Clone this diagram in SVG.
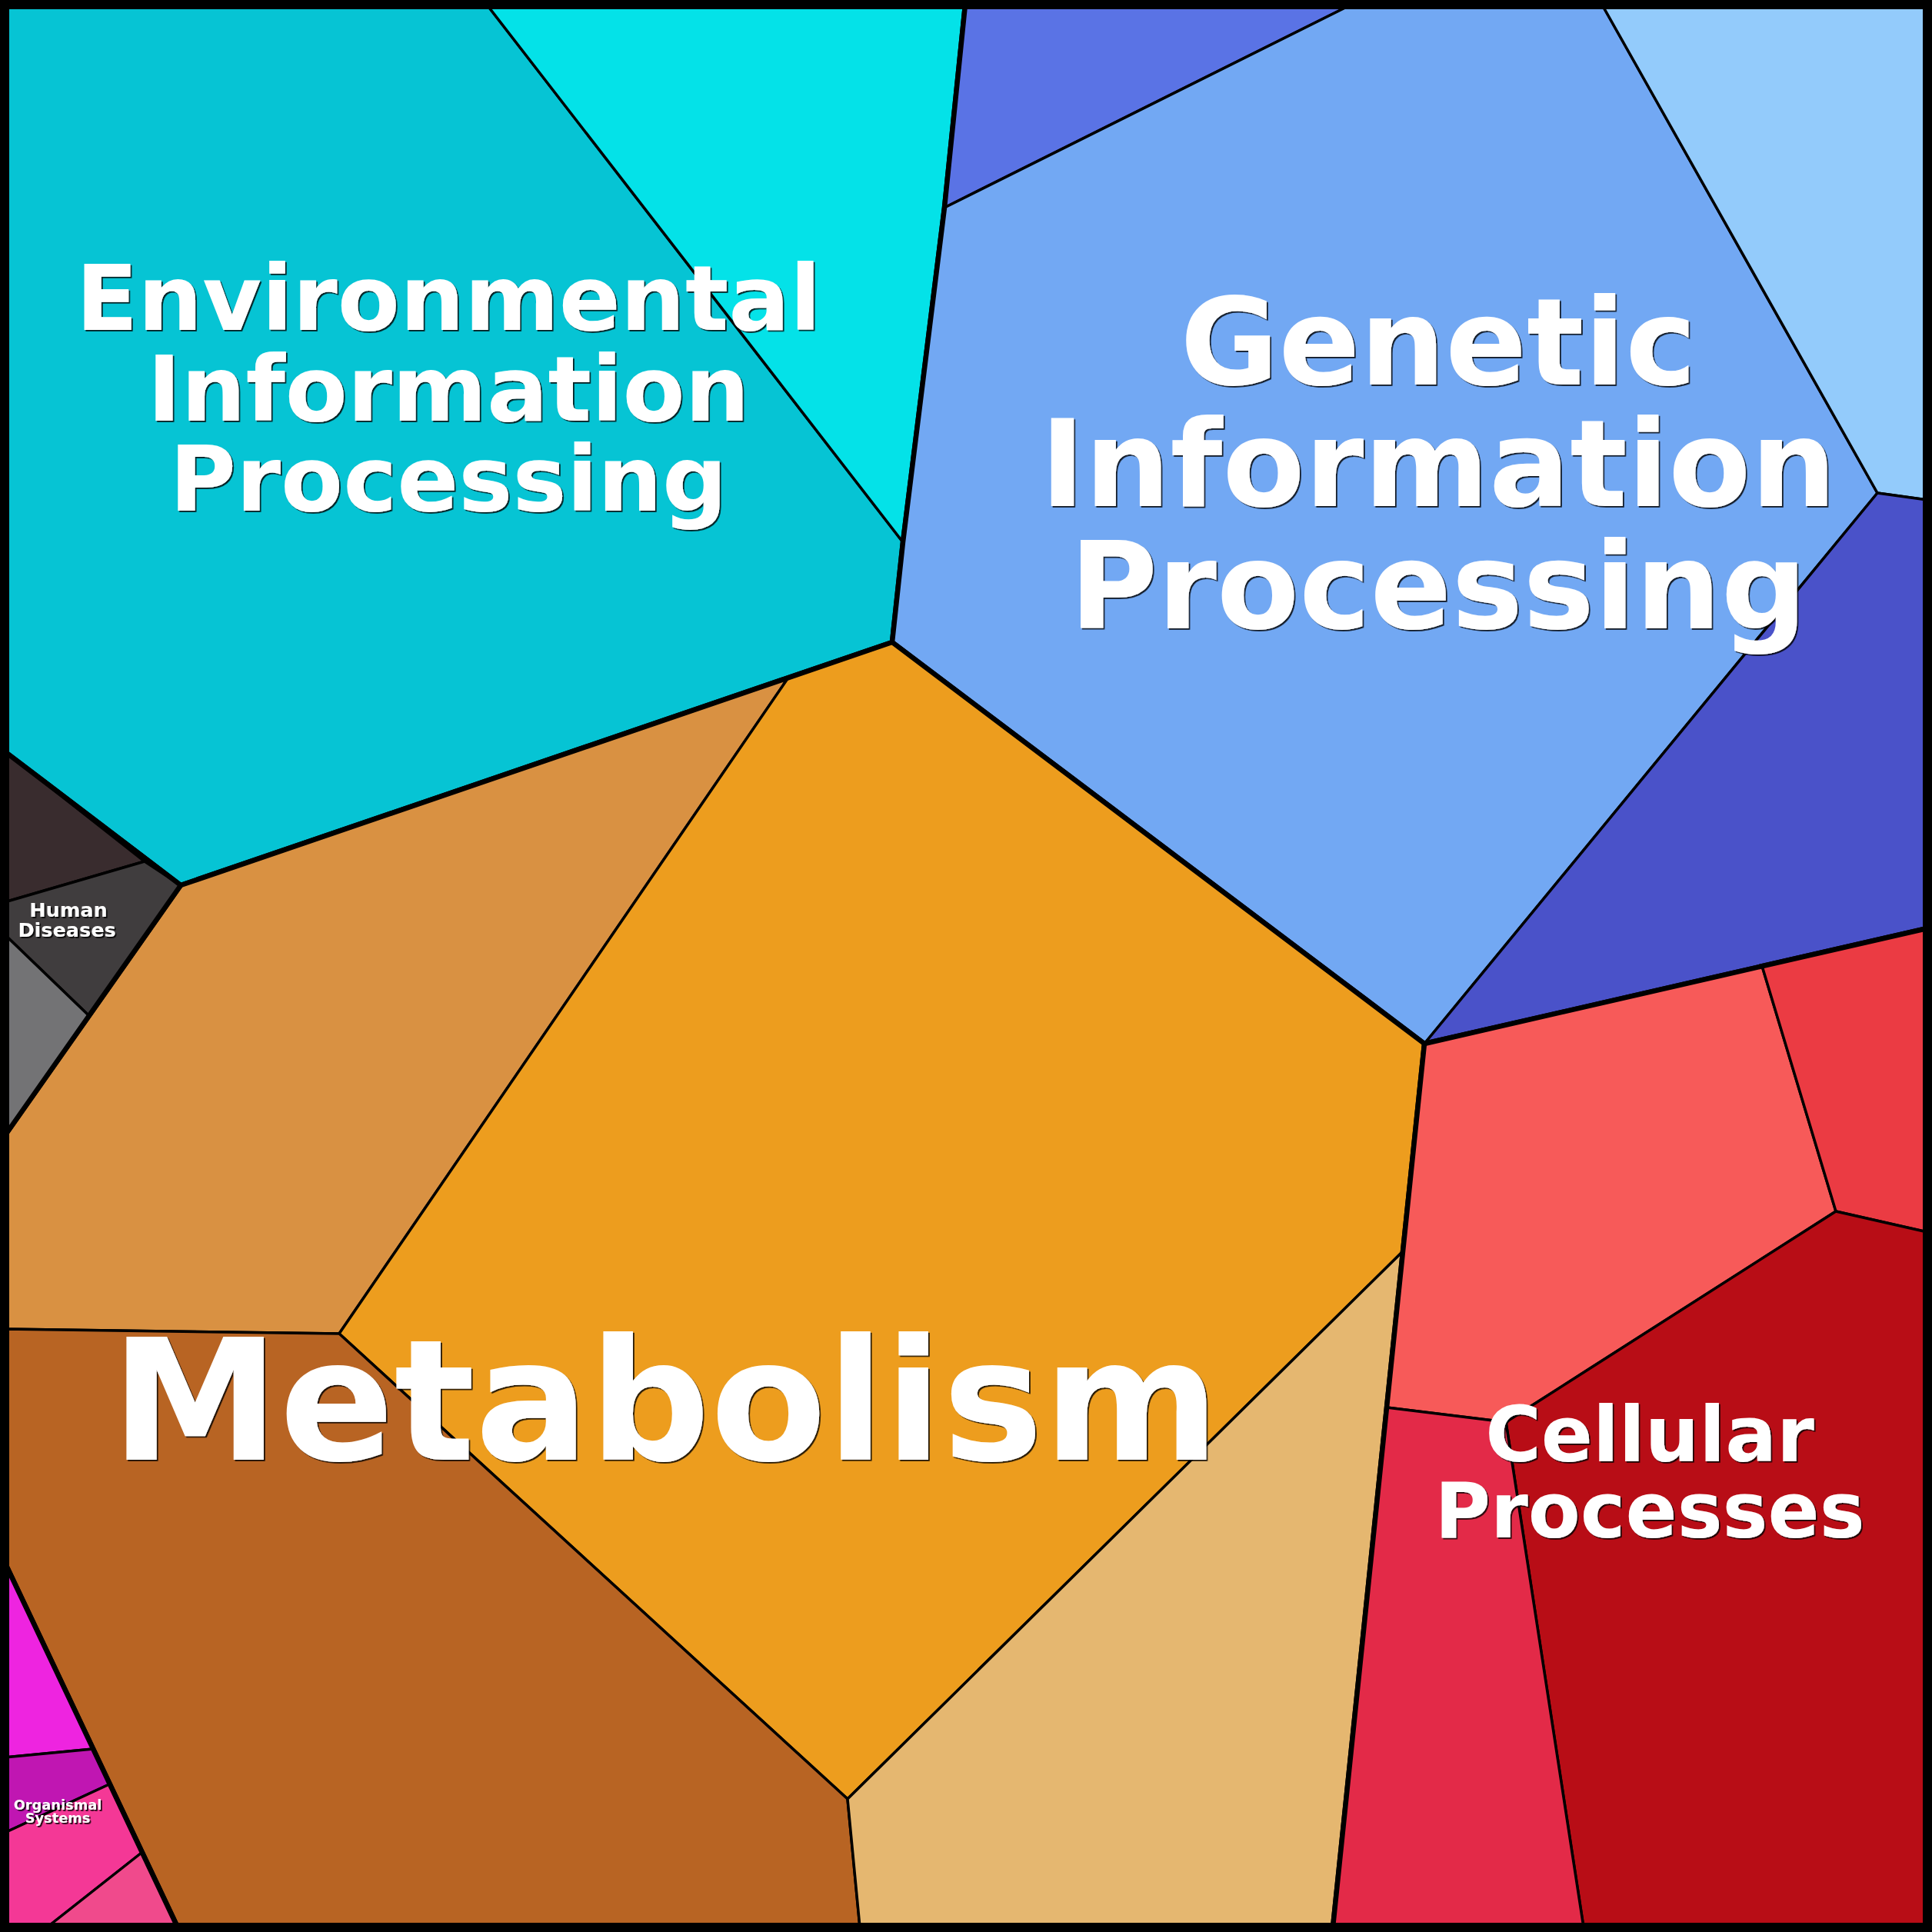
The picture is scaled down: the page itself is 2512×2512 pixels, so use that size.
<svg xmlns="http://www.w3.org/2000/svg" width="2512" height="2512" viewBox="0 0 2512 2512">
<style>
.leaf{stroke:#000;stroke-width:3.5;stroke-linejoin:round}
.outline{fill:none;stroke:#000;stroke-width:6.5;stroke-linejoin:round}
.lbl{font-family:"DejaVu Sans","Liberation Sans",sans-serif;font-weight:bold;fill:#fff;text-anchor:middle;filter:url(#sh)}
</style>
<defs>
<filter id="sh" x="-5%" y="-5%" width="110%" height="110%">
<feDropShadow dx="1.8" dy="1.8" stdDeviation="0.6" flood-color="#000" flood-opacity="0.85"/>
</filter>
</defs>
<rect x="0" y="0" width="2512" height="2512" fill="#000"/>

<g id="environmental">
<polygon class="leaf" fill="#06C4D4" points="633,6 1174,705 1160,835 235,1151 6,977 6,6"/>
<polygon class="leaf" fill="#04E2E8" points="633,6 1255,6 1228,270 1174,705"/>
<polygon class="outline" points="6,6 1255,6 1228,270 1174,705 1160,835 235,1151 6,977"/>
</g>

<g id="genetic">
<polygon class="leaf" fill="#5A73E5" points="1255,6 1757,6 1228,270"/>
<polygon class="leaf" fill="#72A8F3" points="1228,270 1757,6 2083,6 2441,641 1852,1357 1160,835 1174,705"/>
<polygon class="leaf" fill="#93CBFB" points="2083,6 2506,6 2506,650 2441,641"/>
<polygon class="leaf" fill="#4A52C9" points="2441,641 2506,650 2506,1207 1852,1357"/>
<polygon class="outline" points="1255,6 2506,6 2506,1207 1852,1357 1160,835 1174,705 1228,270"/>
</g>

<g id="metabolism">
<polygon class="leaf" fill="#D99142" points="235,1151 1025,881 441,1734 6,1728 6,1477"/>
<polygon class="leaf" fill="#ED9D1E" points="1025,881 1160,835 1852,1357 1823,1628 1102,2339 441,1734"/>
<polygon class="leaf" fill="#B86423" points="6,1728 441,1734 1102,2339 1118,2506 231,2506 6,2031"/>
<polygon class="leaf" fill="#E5B770" points="1102,2339 1823,1628 1733,2506 1118,2506"/>
<polygon class="outline" points="1160,835 1852,1357 1733,2506 231,2506 6,2031 6,1477 235,1151"/>
</g>

<g id="human-diseases">
<polygon class="leaf" fill="#392C2E" points="6,977 188,1120 6,1173"/>
<polygon class="leaf" fill="#403D3E" points="6,1173 188,1120 235,1151 115,1320 6,1215"/>
<polygon class="leaf" fill="#737375" points="6,1215 115,1320 6,1477"/>
<polygon class="outline" points="6,977 235,1151 6,1477"/>
</g>

<g id="organismal-systems">
<polygon class="leaf" fill="#EE24E0" points="6,2031 121,2274 6,2285"/>
<polygon class="leaf" fill="#C016B2" points="6,2285 121,2274 142,2320 6,2383"/>
<polygon class="leaf" fill="#F43896" points="6,2383 142,2320 184,2409 61,2506 6,2506"/>
<polygon class="leaf" fill="#F04A8C" points="61,2506 184,2409 231,2506"/>
<polygon class="outline" points="6,2031 231,2506 6,2506"/>
</g>

<g id="cellular-processes">
<polygon class="leaf" fill="#F75A59" points="1852,1357 2291,1256 2387,1575 1958,1849 1803,1830"/>
<polygon class="leaf" fill="#EB3B43" points="2291,1256 2506,1207 2506,1602 2387,1575"/>
<polygon class="leaf" fill="#B80D16" points="2387,1575 2506,1602 2506,2506 2059,2506 1958,1849"/>
<polygon class="leaf" fill="#E32A48" points="1803,1830 1958,1849 2059,2506 1733,2506"/>
<polygon class="outline" points="1852,1357 2506,1207 2506,2506 1733,2506"/>
</g>

<rect id="frame" x="6" y="6" width="2500" height="2500" fill="none" stroke="#000" stroke-width="12"/>

<g id="labels">
<text class="lbl" font-size="118"><tspan x="583" y="429">Environmental</tspan><tspan x="583" y="547">Information</tspan><tspan x="583" y="664">Processing</tspan></text>
<text class="lbl" font-size="156"><tspan x="1870" y="500">Genetic</tspan><tspan x="1870" y="658">Information</tspan><tspan x="1870" y="817">Processing</tspan></text>
<text class="lbl" font-size="220" x="865" y="1898">Metabolism</text>
<text class="lbl" font-size="99"><tspan x="2145" y="1900">Cellular</tspan><tspan x="2145" y="1999">Processes</tspan></text>
<text class="lbl" font-size="25.5"><tspan x="89" y="1192">Human</tspan><tspan x="87" y="1218">Diseases</tspan></text>
<text class="lbl" font-size="17.8"><tspan x="75" y="2353">Organismal</tspan><tspan x="75" y="2370">Systems</tspan></text>
</g>
</svg>
